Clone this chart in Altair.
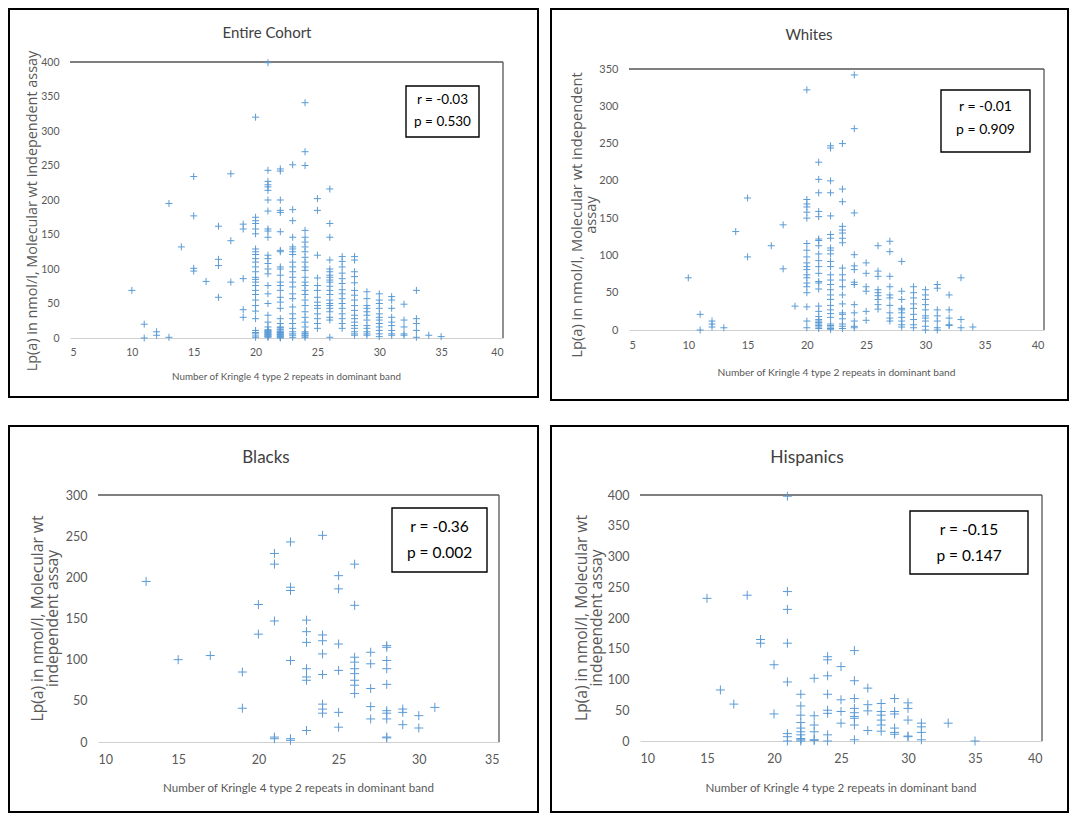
import altair as alt
import pandas as pd

BLUE = "#5b9bd5"
CROSS = "M-1,0H1M0,-1V1"
FONT = "Lato"
YFONT = "Open Sans"
GRAY = "#595959"
XTITLE = "Number of Kringle 4 type 2 repeats in dominant band"

# ---------------- data: Lp(a) values grouped by number of KIV-2 repeats ----------------
cohort_k4 = [10, 11, 12, 13, 14, 15, 16, 17, 18, 19, 20, 21, 22, 23, 24, 25, 26, 27, 28, 29, 30, 31, 32, 33, 34, 35]
cohort_lpa = [
    [69], [20, 0], [9, 4], [195, 1], [132], [234, 177, 101, 97], [82], [162, 114, 105, 59],
    [238, 141, 81], [165, 158, 86, 41, 30],
    [320, 175, 170, 166, 158, 151, 129, 125, 121, 115, 110, 103, 96, 88, 85, 81, 76, 69, 63, 55, 47, 39, 28, 11, 8, 6, 3, 1],
    [399, 243, 227, 222, 219, 214, 200, 184, 158, 155, 146, 120, 115, 108, 100, 93, 76, 64, 50, 33, 23, 16, 12, 11, 10, 9, 8, 7, 6, 5, 4, 3, 2, 1],
    [245, 242, 200, 185, 182, 154, 127, 125, 103, 100, 91, 81, 76, 69, 59, 52, 43, 28, 21, 16, 15, 13, 12, 10, 9, 8, 7, 6, 5, 4, 3, 2, 1, 0],
    [251, 186, 170, 146, 132, 129, 125, 121, 110, 103, 96, 88, 81, 74, 64, 57, 45, 35, 28, 21, 14, 9, 6, 4, 1],
    [341, 270, 250, 156, 146, 139, 132, 125, 117, 110, 103, 98, 88, 81, 76, 69, 63, 55, 47, 38, 30, 23, 16, 9, 7, 6, 4, 3, 1],
    [202, 185, 120, 87, 76, 69, 59, 52, 47, 43, 35, 28, 21, 14],
    [216, 166, 146, 113, 100, 96, 91, 88, 84, 81, 75, 69, 63, 55, 50, 47, 43, 38, 30, 26, 1],
    [118, 111, 103, 94, 86, 79, 70, 64, 57, 50, 43, 35, 28, 21, 14],
    [118, 113, 96, 89, 80, 69, 62, 55, 47, 40, 33, 28, 23, 18, 14, 9, 6, 4],
    [67, 57, 47, 43, 38, 33, 26, 18, 14, 9, 6, 4],
    [64, 55, 50, 43, 35, 30, 26, 21, 16, 11, 6, 2],
    [60, 55, 43, 30, 23, 18, 11, 6, 4],
    [49, 26, 16, 6, 4],
    [69, 28, 21, 11, 1],
    [4],
    [2],
]

whites_k4 = [10, 11, 12, 13, 14, 15, 17, 18, 19, 20, 21, 22, 23, 24, 25, 26, 27, 28, 29, 30, 31, 32, 33, 34]
whites_lpa = [
    [70], [21, 0], [12, 8, 4], [3], [132], [177, 98], [113], [141, 82], [32],
    [322, 175, 169, 165, 158, 150, 116, 107, 98, 90, 85, 81, 74, 70, 63, 58, 50, 31, 12, 3],
    [225, 202, 184, 159, 152, 122, 120, 113, 102, 93, 85, 76, 65, 63, 55, 32, 25, 18, 14, 12, 10, 8, 6, 4, 2],
    [247, 244, 200, 184, 153, 128, 123, 110, 107, 102, 92, 85, 74, 67, 61, 54, 47, 41, 33, 27, 22, 17, 8, 6, 4, 2, 1],
    [250, 189, 172, 139, 134, 130, 123, 117, 83, 74, 67, 58, 47, 35, 23, 21, 15, 8, 5, 2],
    [342, 270, 157, 101, 86, 81, 64, 61, 34, 23, 12, 5, 3],
    [90, 76, 58, 52, 25, 13],
    [113, 79, 72, 54, 50, 46, 41, 34, 28],
    [119, 105, 72, 58, 47, 43, 33, 23, 16, 12],
    [92, 52, 41, 29, 27, 23, 17, 12, 7, 4],
    [58, 50, 43, 35, 29, 21, 14, 7, 3],
    [54, 47, 41, 34, 27, 19, 16, 12, 5, 0],
    [61, 56, 27, 19, 12, 3, 0],
    [47, 27, 16, 7, 6],
    [70, 14, 3],
    [4],
]

blacks_k4 = [13, 15, 17, 19, 20, 21, 22, 23, 24, 25, 26, 27, 28, 29, 30, 31]
blacks_lpa = [
    [195], [100], [105], [85, 41], [167, 131],
    [229, 216, 147, 6, 4],
    [243, 188, 184, 99, 4, 2],
    [148, 134, 121, 89, 79, 75, 14],
    [251, 130, 123, 107, 82, 46, 40, 35],
    [202, 186, 119, 87, 36, 18],
    [216, 166, 103, 97, 89, 83, 75, 69, 59],
    [109, 95, 65, 43, 28],
    [117, 115, 99, 89, 70, 38, 35, 28, 6, 5],
    [40, 36, 21],
    [32, 17],
    [42],
]

hisp_k4 = [15, 16, 17, 18, 19, 20, 21, 22, 23, 24, 25, 26, 27, 28, 29, 30, 31, 33, 35]
hisp_lpa = [
    [232], [83], [60], [237], [165, 159], [124, 44],
    [398, 243, 214, 159, 96, 12, 7, 0],
    [76, 57, 42, 30, 21, 15, 10, 4, 2, 0],
    [102, 41, 26, 15, 2, 1],
    [137, 132, 106, 76, 50, 45, 10, 0],
    [121, 67, 48, 29],
    [147, 98, 69, 53, 46, 40, 37, 26, 2],
    [86, 59, 49, 17],
    [61, 48, 42, 34, 26, 16],
    [69, 48, 44, 21, 14, 11],
    [62, 53, 34, 8, 7],
    [29, 23, 14, 2],
    [29],
    [0],
]

titles = ["Entire Cohort", "Whites", "Blacks", "Hispanics"]
r_texts = ["r =  -0.03", "r = -0.01", "r = -0.36", "r = -0.15"]
p_texts = ["p = 0.530", "p = 0.909", "p = 0.002", "p = 0.147"]
ytitles = [
    ["Lp(a) in nmol/l, Molecular wt independent assay"],
    ["Lp(a) in nmol/l, Molecular wt independent", "assay"],
    ["Lp(a) in nmol/l, Molecular wt", "independent assay"],
    ["Lp(a) in nmol/l, Molecular wt", "independent assay"],
]


def panel(k4, lpa, title, rtxt, ptxt, ylines, xdom, xstep, ydom, ystep,
          BW, BH, L, T, W, H,
          title_xy, title_fs, ylx, yty, yfs, xty, xfs, lfs, ann, ann_fs, msize):
    """The Vega-Lite view is the whole outlined panel (BW x BH); the data region
    sits inside it at (L, T) with size W x H."""
    rows = [{"k4": k, "lpa": v} for k, vals in zip(k4, lpa) for v in vals]
    df = pd.DataFrame(rows)
    one = pd.DataFrame({"a": [0]})

    pts = alt.Chart(df).mark_point(
        shape=CROSS, filled=False, size=msize, strokeWidth=1, color=BLUE, opacity=1
    ).encode(
        x=alt.X("k4:Q",
                scale=alt.Scale(domain=xdom, nice=False, zero=False, range=[L, L + W]),
                axis=alt.Axis(values=list(range(xdom[0], xdom[1] + 1, xstep)), title=None,
                              offset=-(BH - T - H),
                              grid=False, ticks=False, tickSize=0, domainColor="#d0d0d0", domainWidth=1.2,
                              labelFont=FONT, labelFontSize=lfs, labelColor=GRAY, labelPadding=lfs * 0.9)),
        y=alt.Y("lpa:Q",
                scale=alt.Scale(domain=ydom, nice=False, zero=True, range=[T + H, T]),
                axis=alt.Axis(values=list(range(ydom[0], ydom[1] + 1, ystep)), title=None,
                              offset=-L,
                              grid=False, ticks=False, tickSize=0, domain=False,
                              labelFont=FONT, labelFontSize=lfs, labelColor=GRAY, labelPadding=11)),
    )

    layers = []
    layers.append(alt.Chart(one).mark_rect(fill="white", fillOpacity=0, stroke="black", strokeWidth=2).encode(
        x=alt.value(0), x2=alt.value(BW), y=alt.value(0), y2=alt.value(BH)))
    layers.append(alt.Chart(one).mark_rule(color="#555555", strokeWidth=1.3).encode(
        x=alt.value(L), x2=alt.value(L + W), y=alt.value(T)))
    layers.append(alt.Chart(one).mark_rule(color="#555555", strokeWidth=1.3).encode(
        x=alt.value(L + W), y=alt.value(T), y2=alt.value(T + H)))
    layers.append(pts)
    layers.append(alt.Chart(one).mark_rect(fill="white", stroke="black", strokeWidth=1.4).encode(
        x=alt.value(L + ann[0]), x2=alt.value(L + ann[2]), y=alt.value(T + ann[1]), y2=alt.value(T + ann[3])))
    cx = L + (ann[0] + ann[2]) / 2
    for txt, yy in ((rtxt, ann[4]), (ptxt, ann[5])):
        layers.append(alt.Chart(one).mark_text(text=txt, font=FONT, fontSize=ann_fs, color="black",
                                               align="center", baseline="middle").encode(
            x=alt.value(cx), y=alt.value(T + yy)))
    layers.append(alt.Chart(one).mark_text(text=title, font=FONT, fontSize=title_fs, color="#404040",
                                           align="center", baseline="middle").encode(
        x=alt.value(L + title_xy[0]), y=alt.value(T + title_xy[1])))
    # x-axis title
    layers.append(alt.Chart(one).mark_text(text=XTITLE, font=FONT, fontSize=xfs, color=GRAY,
                                           align="center", baseline="middle").encode(
        x=alt.value(L + W / 2), y=alt.value(T + H + xty)))
    # y-axis title (one text per line, rotated)
    for line, lx in zip(ylines, ylx):
        layers.append(alt.Chart(one).mark_text(text=line, font=YFONT, fontSize=yfs, color=GRAY, angle=270,
                                               align="center", baseline="middle").encode(
            x=alt.value(L + lx), y=alt.value(T + yty)))

    return alt.layer(*layers).properties(width=BW, height=BH)


p1 = panel(cohort_k4, cohort_lpa, titles[0], r_texts[0], p_texts[0], ytitles[0],
           [5, 40], 5, [0, 400], 50,
           529, 388, 61, 53, 433, 276,
           (197, -29), 15, [-37], 149, 14.4, 39, 9.8, 10.5,
           (336, 24, 409, 75, 38, 60), 13.5, 49)
p2 = panel(whites_k4, whites_lpa, titles[1], r_texts[1], p_texts[1], ytitles[1],
           [5, 40], 5, [0, 350], 50,
           517, 391, 78, 60, 415, 261,
           (180, -34), 15, [-51, -37], 146, 14.7, 43, 10.2, 11,
           (312, 21, 401, 83, 38, 61), 14, 49)
p3 = panel(blacks_k4, blacks_lpa, titles[2], r_texts[2], p_texts[2], ytitles[2],
           [10, 35], 5, [0, 300], 50,
           529, 386, 89, 69, 401, 247,
           (168, -37), 17, [-60, -45], 123.5, 15.6, 47, 11.6, 12.5,
           (294, 13, 389, 77, 32, 58), 15.5, 81)
p4 = panel(hisp_k4, hisp_lpa, titles[3], r_texts[3], p_texts[3], ytitles[3],
           [10, 40], 5, [0, 400], 50,
           517, 386, 89, 69, 402, 246,
           (167, -37), 17.5, [-58, -43], 123, 15.6, 48, 11.6, 12.5,
           (270, 16, 388, 79, 35, 61), 15.5, 81)

chart = alt.vconcat(
    alt.hconcat(p1, p2, spacing=11),
    alt.hconcat(p3, p4, spacing=11),
    spacing=24,
).properties(padding=0, background="white").configure_view(stroke=None)

chart.save("out.html", embed_options={"renderer": "svg", "actions": False})
